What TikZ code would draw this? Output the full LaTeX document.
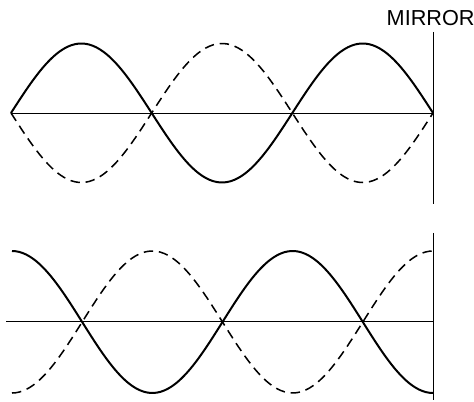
\documentclass[tikz,border=0pt]{standalone}
\usepackage{fontspec}
\setmainfont{Liberation Sans}
\usetikzlibrary{positioning}

\begin{document}
\begin{tikzpicture}[x=0.03cm, y=-0.03cm,
    axis/.style={draw, line width=0.8pt},
    mirror/.style={draw, line width=0.6pt},
    wave/.style={draw, line width=1.7pt, smooth},
    ghost/.style={draw, line width=1.3pt, smooth, dash pattern=on 8pt off 5pt},
    label/.style={font=\fontsize{18.5}{18.5}\selectfont, inner sep=0pt}]

    \useasboundingbox (0,0) rectangle (474,402);

    % upper panel: node at the mirror
    \coordinate (a1) at (11,113);
    \coordinate (a2) at (433,113);
    \coordinate (m1) at (433,32);
    \coordinate (m2) at (433,204);
    \node [label, above=5.5pt of m1, xshift=-2pt] (mlabel) {MIRROR};
    \draw [axis] (a1) -- (a2);
    \draw [mirror] (m1) -- (m2);
    \draw [wave] plot[domain=11:433, samples=120] (\x, {113 - 69.5*sin((\x-11)/140.67*180)});
    \draw [ghost] plot[domain=11:433, samples=120] (\x, {113 + 69.5*sin((\x-11)/140.67*180)});

    % lower panel: antinode at the mirror
    \coordinate (b1) at (6,321);
    \coordinate (b2) at (433,321);
    \coordinate (n1) at (433,233);
    \coordinate (n2) at (433,400);
    \draw [axis] (b1) -- (b2);
    \draw [mirror] (n1) -- (n2);
    \draw [wave] plot[domain=12:433, samples=120] (\x, {322 - 71*cos((\x-12)/140.33*180)});
    \draw [ghost] plot[domain=12:433, samples=120] (\x, {322 + 71*cos((\x-12)/140.33*180)});
\end{tikzpicture}
\end{document}
